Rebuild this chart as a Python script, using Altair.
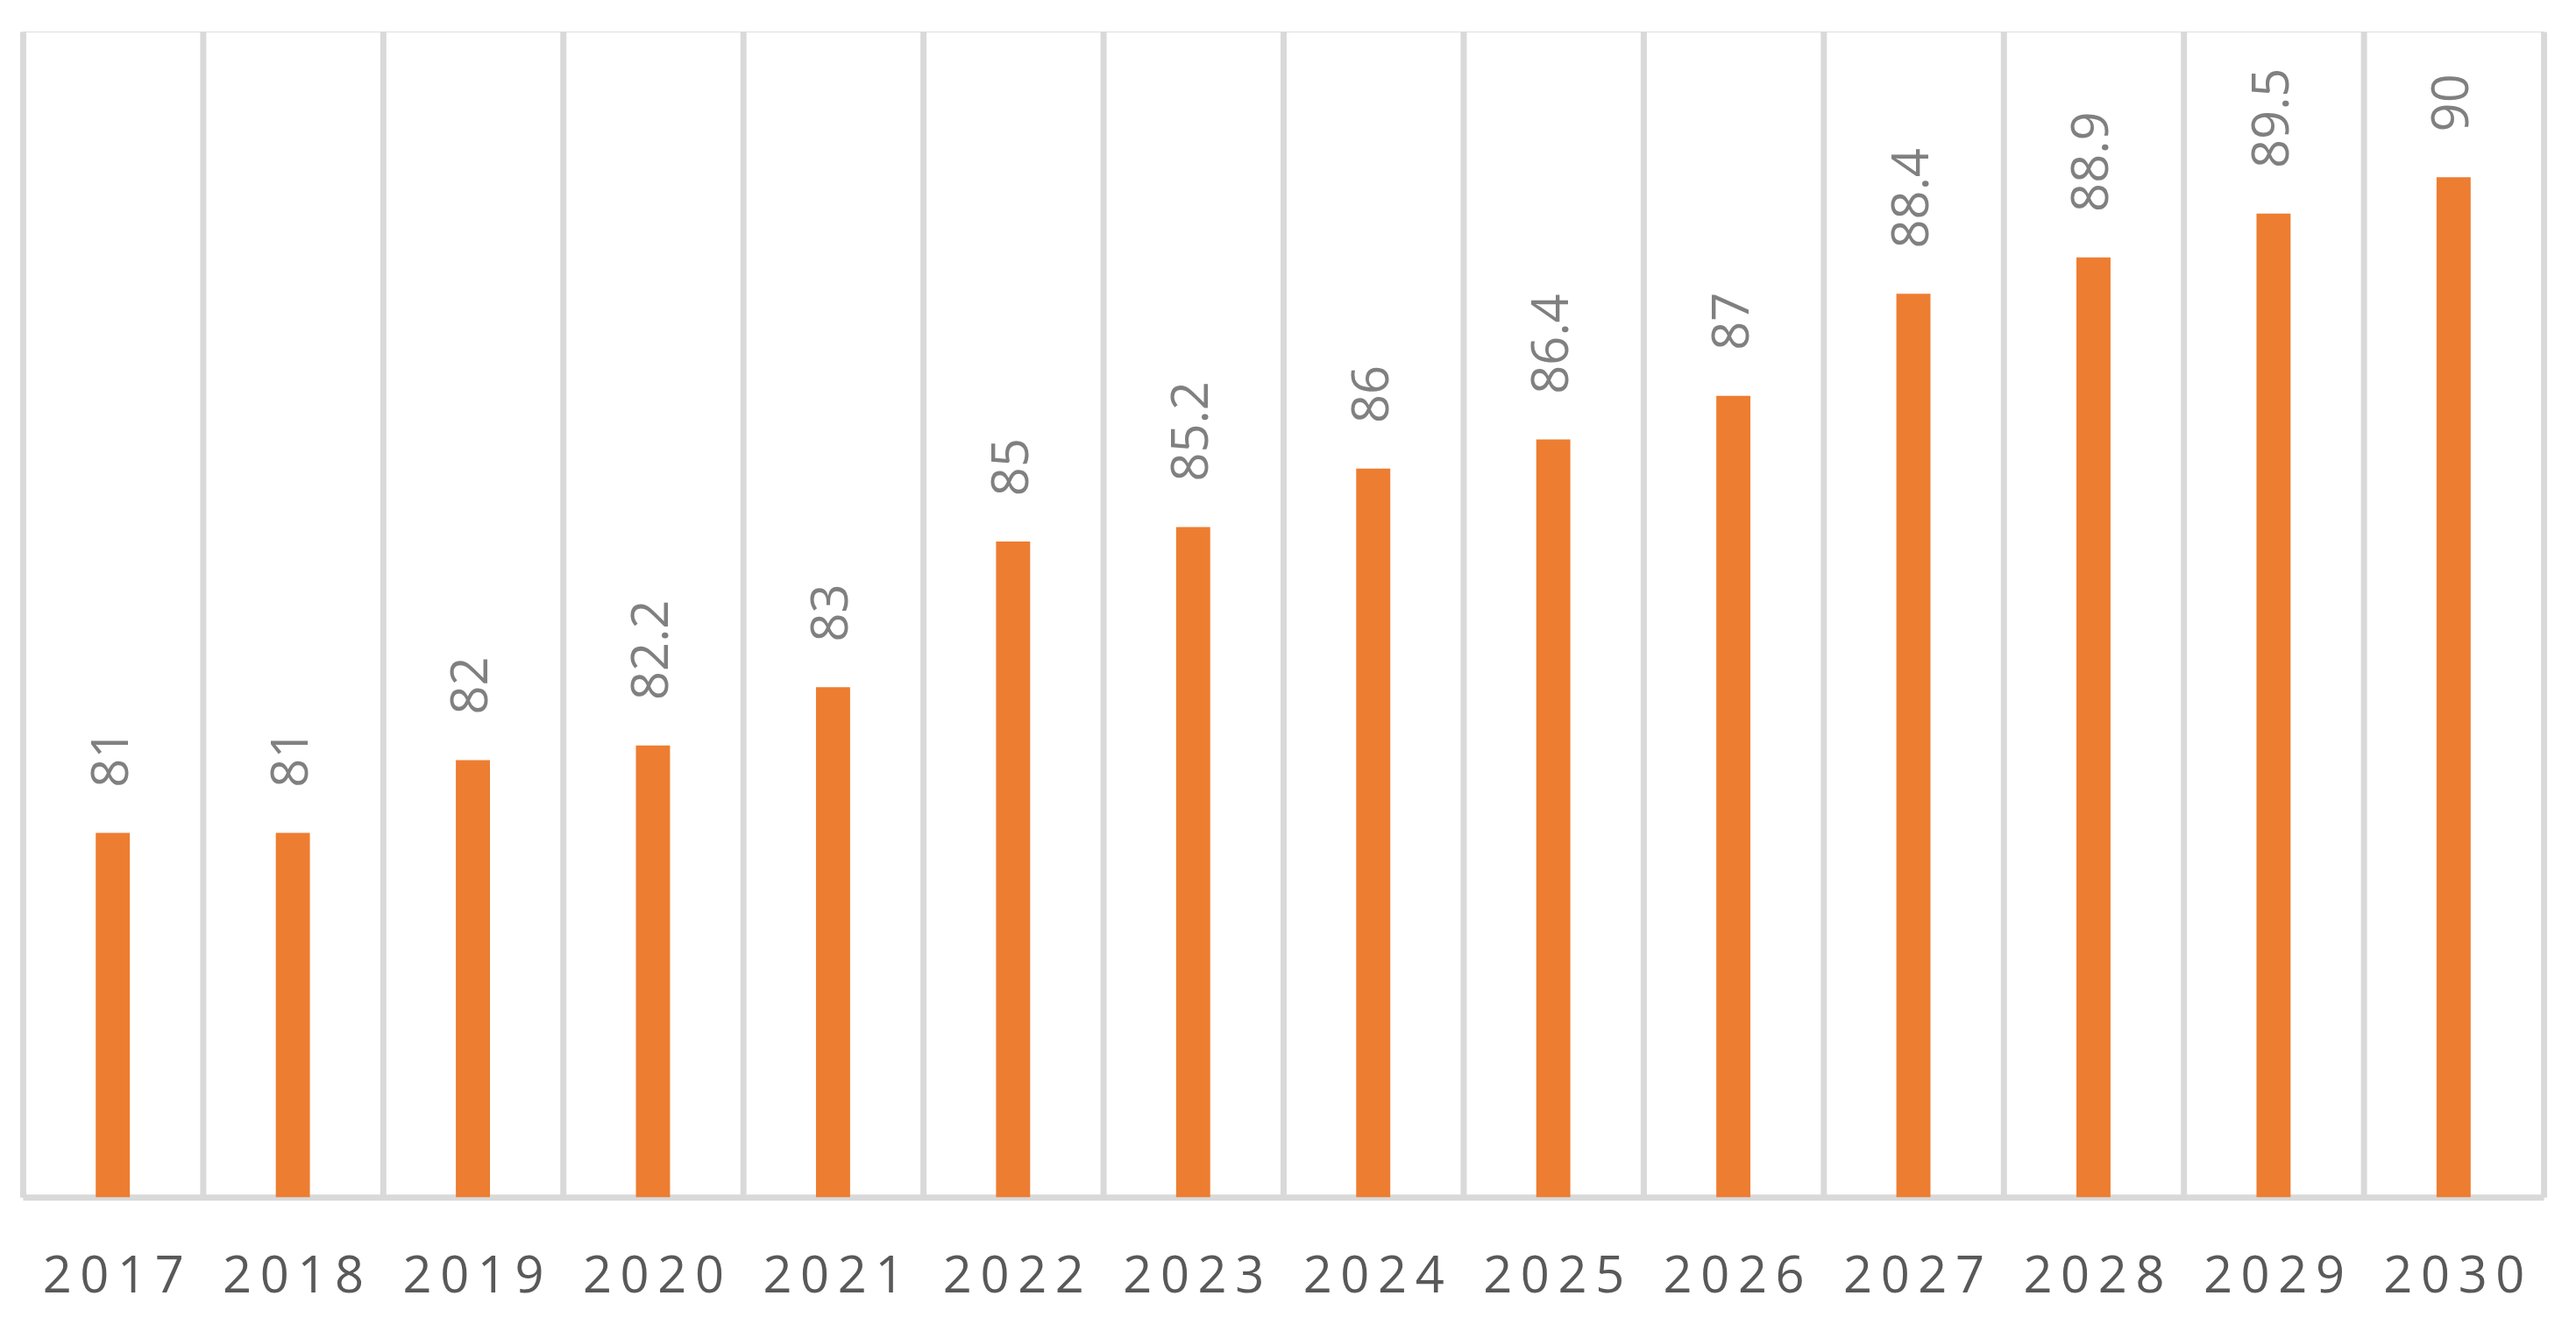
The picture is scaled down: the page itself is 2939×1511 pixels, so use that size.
import altair as alt
import pandas as pd

years = ["2017", "2018", "2019", "2020", "2021", "2022", "2023",
         "2024", "2025", "2026", "2027", "2028", "2029", "2030"]
values = [81, 81, 82, 82.2, 83, 85, 85.2, 86, 86.4, 87, 88.4, 88.9, 89.5, 90]
labels = ["81", "81", "82", "82.2", "83", "85", "85.2", "86", "86.4", "87",
          "88.4", "88.9", "89.5", "90"]

df = pd.DataFrame({"year": years, "value": values, "label": labels})

x = alt.X("year:N", sort=years, title=None,
          scale=alt.Scale(paddingInner=0, paddingOuter=0),
          axis=alt.Axis(labelAngle=0, ticks=False, tickBand="extent",
                        grid=True, gridColor="#d9d9d9", gridWidth=7,
                        domain=True, domainColor="#d9d9d9", domainWidth=7,
                        labelFont="Open Sans", labelFontSize=58,
                        labelColor="#595959", labelBaseline="alphabetic",
                        labelPadding=108,
                        labelExpr="join(split(datum.label, ''), '\u2009')"))
y = alt.Y("value:Q", title=None,
          scale=alt.Scale(domain=[76, 92], zero=False, nice=False),
          axis=None)

bars = alt.Chart(df).mark_bar(size=39, color="#ED7D31", clip=True).encode(x=x, y=y)
text = alt.Chart(df).mark_text(angle=270, align="left", baseline="middle",
                               dx=52, font="Open Sans", fontSize=58,
                               color="#808080").encode(x=x, y=y, text="label:N")

chart = (bars + text).properties(
    width=2884, height=1334,
    autosize=alt.AutoSizeParams(type="none"),
    padding={"left": 18, "top": 26, "right": 29, "bottom": 143},
).configure_view(stroke=None).configure(background="white")

chart.save("out.html", embed_options={"renderer": "svg", "actions": False})
